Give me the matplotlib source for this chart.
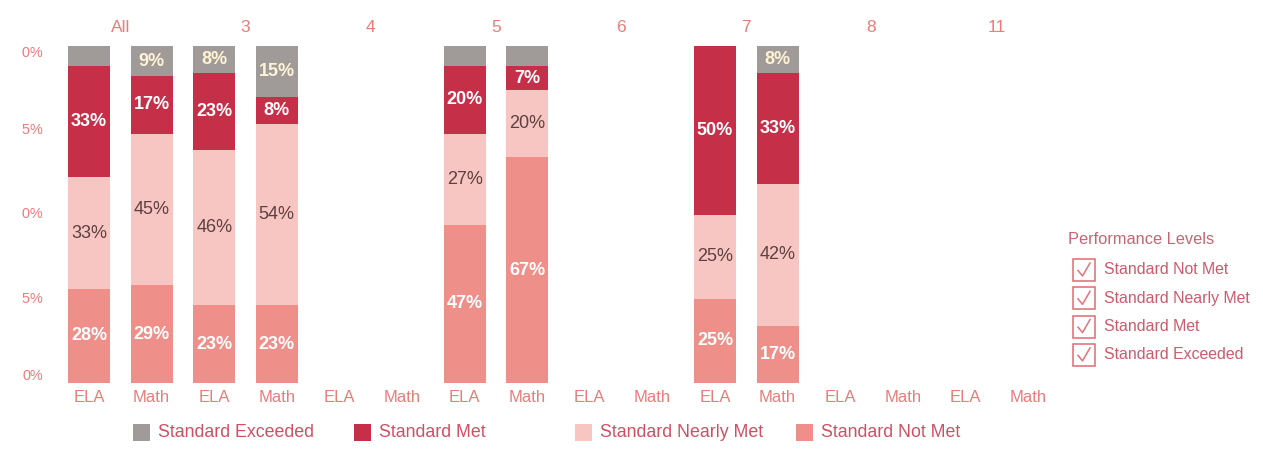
import matplotlib
matplotlib.use("Agg")
import matplotlib.pyplot as plt
from matplotlib.patches import Rectangle
from matplotlib.lines import Line2D

plt.rcParams["font.family"] = ["Liberation Sans", "DejaVu Sans"]

# Grades and subjects along the x axis
grades = ["All", "3", "4", "5", "6", "7", "8", "11"]
subjects = ["ELA", "Math"]

# Performance level shares (percent), one entry per grade/subject slot;
# None marks a slot with no results
not_met = [28, 29, 23, 23, None, None, 47, 67, None, None, 25, 17, None, None, None, None]
nearly_met = [33, 45, 46, 54, None, None, 27, 20, None, None, 25, 42, None, None, None, None]
met = [33, 17, 23, 8, None, None, 20, 7, None, None, 50, 33, None, None, None, None]
exceeded = [6, 9, 8, 15, None, None, 6, 6, None, None, 0, 8, None, None, None, None]

y_ticks = [100, 75, 50, 25, 0]

levels = ["Standard Not Met", "Standard Nearly Met", "Standard Met", "Standard Exceeded"]
colors = ["#ee8f89", "#f7c6c2", "#c62f48", "#a09b99"]
label_colors = ["#ffffff", "#5e4040", "#ffffff", "#fff3d6"]
label_weights = ["bold", "normal", "bold", "bold"]
series = [not_met, nearly_met, met, exceeded]

accent = "#ea7c7a"
W, H = 1263, 455
fig = plt.figure(figsize=(W / 100, H / 100), dpi=100)

# main plotting area (pixel layout converted to figure fractions)
ax_left, ax_right = 22, 1060
ax_top, ax_bottom = 46, 383
ax = fig.add_axes([ax_left / W, 1 - ax_bottom / H, (ax_right - ax_left) / W, (ax_bottom - ax_top) / H])
slot_w = 62.6
first_c = 89
ax.set_xlim((ax_left - first_c) / slot_w, (ax_right - first_c) / slot_w)
ax.set_ylim(0, 100)
ax.axis("off")

n_slots = len(grades) * len(subjects)
xs = list(range(n_slots))
bar_w = 42 / slot_w

for i in xs:
    if not_met[i] is None:
        continue
    bottom = 0
    for k, s in enumerate(series):
        v = s[i]
        if v:
            ax.bar(i, v, bottom=bottom, width=bar_w, color=colors[k], linewidth=0)
            if v >= 7:
                ax.text(i, bottom + v / 2, f"{v}%", ha="center", va="center",
                        fontsize=13, color=label_colors[k], fontweight=label_weights[k])
        bottom += v

# y tick labels live in a narrow strip that clips them at its left edge
ylab = fig.add_axes([ax_left / W, 0, 40 / W, 1])
ylab.set_xlim(ax_left, ax_left + 40)
ylab.set_ylim(-(H - ax_bottom) / 3.37, ax_bottom / 3.37)
ylab.axis("off")
for val in y_ticks:
    va = "top" if val == max(y_ticks) else ("bottom" if val == 0 else "center")
    ylab.text(43, val, f"{val}%", ha="right", va=va, fontsize=10.4, color=accent, clip_on=True)

# subject labels under each slot and grade labels above each pair
for i in xs:
    ax.text(i, -4.2, subjects[i % 2], ha="center", va="center", fontsize=12, color=accent, clip_on=False)
for g, name in enumerate(grades):
    ax.text(2 * g + 0.5, 105.6, name, ha="center", va="center", fontsize=12.5, color=accent, clip_on=False)

# overlay in pixel coordinates for legends
ov = fig.add_axes([0, 0, 1, 1])
ov.set_xlim(0, W)
ov.set_ylim(H, 0)
ov.axis("off")

legend_text = "#d14f63"
bottom_order = [3, 2, 1, 0]
for j, k in enumerate(bottom_order):
    x0 = 133 + 221 * j
    ov.add_patch(Rectangle((x0, 424), 17, 17, color=colors[k], linewidth=0))
    ov.text(x0 + 25, 432.5, levels[k], ha="left", va="center", fontsize=12.8, color=legend_text)

ov.text(1068, 240, "Performance Levels", ha="left", va="center", fontsize=11.8, color="#c96373")
for r, name in enumerate(levels):
    cy = 270 + 28.3 * r
    ov.add_patch(Rectangle((1073, cy - 11), 22, 22, fill=False, edgecolor="#e06a70", linewidth=1.1))
    ov.add_line(Line2D([1078, 1082.5, 1090], [cy + 0.5, cy + 6, cy - 7], color="#e8707a", linewidth=1.1))
    ov.text(1104, cy, name, ha="left", va="center", fontsize=11.4, color="#cf5a6c")

fig.savefig("out.png", dpi=100, facecolor="white")
